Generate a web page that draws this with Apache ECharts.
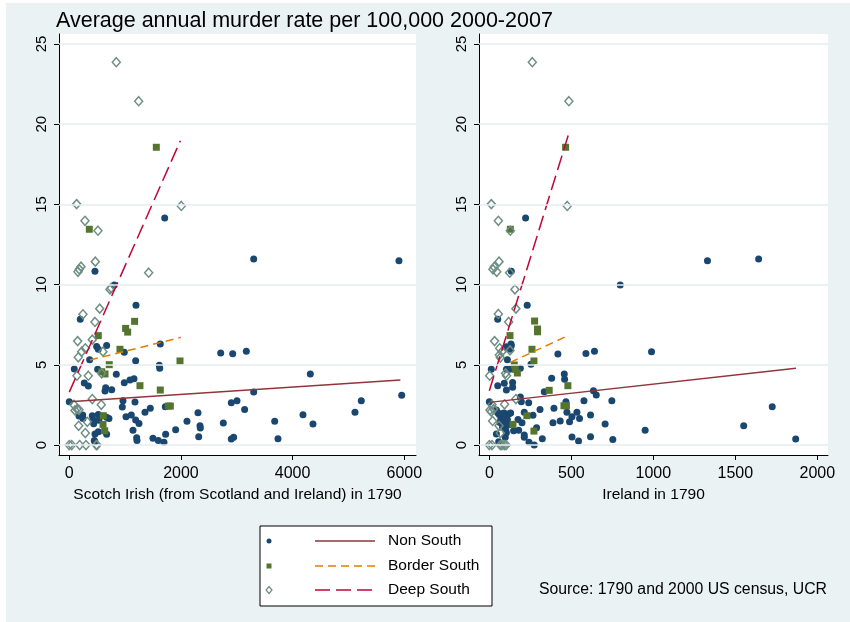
<!DOCTYPE html>
<html>
<head>
<meta charset="utf-8">
<script src="https://cdn.jsdelivr.net/npm/echarts@6/dist/echarts.min.js"></script>
<style>
html,body{margin:0;padding:0;background:#fff;}
#wrap{position:relative;width:850px;height:622px;overflow:hidden;background:#fff;}
#bg{position:absolute;left:6px;top:3px;right:0;bottom:0;background:#eaf2f3;}
#chart{position:absolute;left:0;top:0;width:850px;height:622px;}
</style>
</head>
<body>
<div id="wrap"><div id="bg"></div><div id="chart"></div></div>
<script>
// ---- data ----
const titleText = 'Average annual murder rate per 100,000 2000-2007';
const sourceText = 'Source: 1790 and 2000 US census, UCR';
const groupNames = ['Non South', 'Border South', 'Deep South'];
const yTicks = [0, 5, 10, 15, 20, 25];
const xTicksScotch = [0, 2000, 4000, 6000];
const xTicksIreland = [0, 500, 1000, 1500, 2000];
const xNameScotch = 'Scotch Irish (from Scotland and Ireland) in 1790';
const xNameIreland = 'Ireland in 1790';

const scotchNonSouth = [
[1709,14.15],[3303,11.6],[5905,11.49],[460,10.83],[806,9.97],[1195,8.71],[197,7.84],
[490,6.15],[669,6.21],[520,5.97],[365,5.32],[985,5.78],[1630,6.3],[1189,5.26],[1612,4.97],[1620,4.78],
[2712,5.74],[2927,5.69],[3171,5.84],
[90,4.74],[508,4.72],[842,4.41],[4317,4.43],
[269,3.87],[341,3.68],[652,3.57],[640,3.37],[760,3.45],[985,3.88],[1087,4.05],[1159,4.13],[3303,3.30],
[0,2.7],[962,2.76],[1177,2.68],[950,2.37],[5954,3.10],[5230,2.76],[2902,2.64],[3004,2.76],[3141,2.22],
[240,1.87],[245,1.66],[412,1.83],[425,1.58],[437,1.33],[520,1.91],[526,1.54],[711,1.66],[174,1.81],[550,1.77],[669,1.73],
[1016,1.77],[1111,1.87],[1189,1.56],[1249,1.35],[1356,2.04],[1451,2.29],[1720,2.39],
[2305,2.02],[5117,2.04],[2108,1.48],[2341,1.2],[2347,1.06],[2759,1.37],[3679,1.48],[4186,1.89],[4365,1.31],
[1141,0.93],[1905,0.96],[1726,0.67],[460,0.69],[520,0.83],[669,0.67],[460,0.21],[448,0.29],
[1207,0.46],[1213,0.29],[1499,0.42],[1595,0.29],[1696,0.17],[2318,0.52],[2902,0.37],[2944,0.48],[3738,0.39]
];
const scotchBorderSouth = [
[1559,18.56],[359,13.45],[1170,7.71],[1009,7.27],[1046,7.04],[520,6.82],[908,5.97],[1983,5.24],[716,5.01],
[580,4.57],[640,4.43],[1266,3.70],[1630,3.43],[1775,2.43],[1810,2.43],[609,1.83],[604,1.29],[634,0.89]
];
const scotchDeepSouth = [
[842,23.86],[1243,21.43],[132,15.02],[2006,14.9],[281,13.98],[514,13.36],[466,11.43],[210,11.12],[179,10.95],
[156,10.8],[1422,10.74],[729,9.7],[752,9.79],[545,8.5],[245,8.15],[460,7.67],[150,6.48],[412,6.57],[287,6.03],
[222,5.82],[604,5.82],[161,5.47],[138,4.32],[341,4.32],[580,4.47],[412,2.87],[573,2.51],[84,2.51],[138,2.24],
[102,2.16],[174,2.2],[168,1.2],[322,1.45],[287,0.75],[0,0],[43,0],[186,0],[299,0],[484,0],[496,0]
];
const irelandNonSouth = [
[221,14.15],[1642,11.6],[1330,11.49],[134,10.83],[798,9.97],[231,8.71],[51,7.84],
[132,6.3],[134,6.2],[102,6.13],[128,5.97],[418,5.67],[589,5.71],[641,5.84],[989,5.82],
[110,5.32],[254,5.03],[189,4.78],
[12,4.72],[104,4.72],[124,4.72],[457,4.43],[459,4.1],[380,4.16],
[51,3.7],[91,3.85],[104,3.43],[142,3.9],[142,3.6],[335,3.32],[635,3.39],[652,3.12],
[0,2.7],[467,2.7],[577,2.76],[747,2.76],[189,3.0],[195,2.7],[240,2.64],
[43,2.18],[51,2.02],[309,2.22],[394,2.29],[473,2.04],[534,2.04],[617,1.87],[504,1.77],[550,1.66],[1725,2.39],
[213,2.04],[266,1.85],[175,1.6],[199,1.39],[388,1.39],[432,1.5],[489,1.45],[706,1.31],[1551,1.2],
[950,0.93],[288,1.08],[148,0.89],[179,0.93],[213,0.62],[213,0.48],[323,0.39],[504,0.5],[544,0.25],[617,0.52],[753,0.35],[1868,0.37],
[242,0.17],[274,0],[43,0.69],[57,0.21],[97,0.48],[104,0.77],
[60,1.9],[75,1.95],[90,2.0],[105,1.85],[120,1.95],[130,2.0],[70,1.6],[85,1.7],[95,1.5],[110,1.6],[65,1.4],[80,1.1],[100,0.9],[115,1.25],[90,1.3]
];
const irelandBorderSouth = [
[465,18.56],[128,13.45],[276,7.73],[294,7.23],[294,7.06],[126,6.82],[260,5.97],[272,5.24],[152,4.99],
[158,4.72],[171,4.49],[479,3.70],[365,3.41],[455,2.45],[470,2.45],[229,1.83],[144,1.29],[272,0.87]
];
const irelandDeepSouth = [
[262,23.86],[485,21.43],[12,15.02],[475,14.9],[55,13.98],[128,13.36],[59,11.43],[30,11.1],[22,10.95],
[45,10.8],[124,10.74],[156,9.7],[162,8.5],[55,8.17],[118,7.67],[32,6.48],[63,6.03],[77,5.82],[126,5.9],
[61,5.61],[67,5.45],[2,4.32],[99,4.47],[105,4.32],[162,2.87],[93,2.54],[16,2.51],[4,2.18],[26,2.24],
[12,2.08],[59,1.2],[20,1.5],[67,0.75],[0,0],[16,0],[67,0],[77,0],[91,0],[102,0]
];
const scotchFitNon = [[0,2.7],[5930,4.05]];
const scotchFitBorder = [[371,5.3],[1999,6.71]];
const scotchFitDeep = [[0,3.3],[1990,18.97]];
const irelandFitNon = [[0,2.66],[1870,4.78]];
const irelandFitBorder = [[128,5.15],[487,6.86]];
const irelandFitDeep = [[0,3.39],[485,19.43]];

// ---- styling ----
const FONT = '"Liberation Sans", Arial, sans-serif';
const C_NAVY = '#1a476f', C_GREEN = '#55752f', C_TEAL = '#6e8e84';
const C_MAROON = '#90353b', C_ORANGE = '#e37e00', C_CRAN = '#c10534';
const DASH_BORDER = [8, 5], DASH_DEEP = [15, 6];

function xAxisCfg(gi, min, max, ticks, name) {
  return {
    gridIndex: gi, type: 'value', min: min, max: max,
    name: name, nameLocation: 'middle', nameGap: 27,
    nameTextStyle: {fontSize: 15.5, color: '#000', fontFamily: FONT},
    axisLine: {show: true, onZero: false, lineStyle: {color: '#000', width: 1}},
    axisTick: {show: true, length: 5, customValues: ticks, lineStyle: {color: '#000', width: 1}},
    axisLabel: {customValues: ticks, formatter: v => String(v), fontSize: 16, color: '#000', fontFamily: FONT, margin: 11},
    splitLine: {show: false}
  };
}
function yAxisCfg(gi) {
  return {
    gridIndex: gi, type: 'value', min: -0.62, max: 25.62,
    axisLine: {show: true, onZero: false, lineStyle: {color: '#000', width: 1}},
    axisTick: {show: true, length: 5, customValues: yTicks, lineStyle: {color: '#000', width: 1}},
    axisLabel: {customValues: yTicks, formatter: v => String(v), rotate: 90, fontSize: 15, color: '#000', fontFamily: FONT, margin: 10},
    splitLine: {show: false}
  };
}
function panelSeries(gi, non, border, deep, fNon, fBorder, fDeep) {
  return [
    {type: 'scatter', xAxisIndex: gi, yAxisIndex: gi, data: [], silent: true, z: 1,
      markLine: {silent: true, symbol: ['none', 'none'], label: {show: false},
        lineStyle: {color: '#e6eef0', width: 1.5, type: 'solid'},
        data: yTicks.map(v => ({yAxis: v}))}},
    {type: 'scatter', name: groupNames[0], xAxisIndex: gi, yAxisIndex: gi, data: non, symbol: 'circle', symbolSize: 7,
      itemStyle: {color: C_NAVY, opacity: 1}, z: 3},
    {type: 'scatter', name: groupNames[1], xAxisIndex: gi, yAxisIndex: gi, data: border, symbol: 'rect', symbolSize: 7,
      itemStyle: {color: C_GREEN, opacity: 1}, z: 3},
    {type: 'scatter', name: groupNames[2], xAxisIndex: gi, yAxisIndex: gi, data: deep, symbol: 'diamond', symbolSize: [8, 9],
      itemStyle: {color: 'rgba(255,255,255,0)', borderColor: C_TEAL, borderWidth: 1.5, opacity: 1}, z: 3},
    {type: 'line', xAxisIndex: gi, yAxisIndex: gi, data: fNon, showSymbol: false, symbol: 'none', z: 4,
      lineStyle: {color: C_MAROON, width: 1.5, type: 'solid'}},
    {type: 'line', xAxisIndex: gi, yAxisIndex: gi, data: fBorder, showSymbol: false, symbol: 'none', z: 4,
      lineStyle: {color: C_ORANGE, width: 1.5, type: DASH_BORDER}},
    {type: 'line', xAxisIndex: gi, yAxisIndex: gi, data: fDeep, showSymbol: false, symbol: 'none', z: 4,
      lineStyle: {color: C_CRAN, width: 1.5, type: DASH_DEEP}}
  ];
}

const legendRows = [541, 566, 590];
const legendLineStyles = [
  {stroke: C_MAROON, lineWidth: 1.5},
  {stroke: C_ORANGE, lineWidth: 1.5, lineDash: DASH_BORDER},
  {stroke: C_CRAN, lineWidth: 1.5, lineDash: DASH_DEEP}
];
const legendGraphics = [
  {type: 'rect', shape: {x: 260, y: 526, width: 232, height: 80}, style: {fill: '#fff', stroke: '#000', lineWidth: 1}, z: 10},
  {type: 'circle', shape: {cx: 269, cy: legendRows[0], r: 2.5}, style: {fill: C_NAVY}, z: 11},
  {type: 'rect', shape: {x: 266.5, y: legendRows[1] - 2.5, width: 5, height: 5}, style: {fill: C_GREEN}, z: 11},
  {type: 'polygon', shape: {points: [[269, legendRows[2] - 3.5], [272, legendRows[2]], [269, legendRows[2] + 3.5], [266, legendRows[2]]]},
    style: {fill: 'none', stroke: C_TEAL, lineWidth: 1.2}, z: 11}
];
legendRows.forEach((y, i) => {
  legendGraphics.push({type: 'line', shape: {x1: 315, y1: y, x2: 375, y2: y}, style: legendLineStyles[i], z: 11});
  legendGraphics.push({type: 'text', x: 388, y: y, style: {text: groupNames[i], font: '15.5px ' + FONT, fill: '#000', verticalAlign: 'middle'}, z: 11});
});

const chart = echarts.init(document.getElementById('chart'), null, {renderer: 'canvas'});
chart.setOption({
  backgroundColor: 'transparent',
  animation: false,
  title: {text: titleText, left: 51, top: 5, textStyle: {fontSize: 21.5, fontWeight: 'normal', color: '#000', fontFamily: FONT}},
  grid: [
    {left: 59, top: 34, width: 357, height: 421, show: true, backgroundColor: '#fff', borderWidth: 0},
    {left: 479, top: 34, width: 349, height: 421, show: true, backgroundColor: '#fff', borderWidth: 0}
  ],
  xAxis: [
    xAxisCfg(0, -184, 6210, xTicksScotch, xNameScotch),
    xAxisCfg(1, -63, 2065, xTicksIreland, xNameIreland)
  ],
  yAxis: [yAxisCfg(0), yAxisCfg(1)],
  series: [].concat(
    panelSeries(0, scotchNonSouth, scotchBorderSouth, scotchDeepSouth, scotchFitNon, scotchFitBorder, scotchFitDeep),
    panelSeries(1, irelandNonSouth, irelandBorderSouth, irelandDeepSouth, irelandFitNon, irelandFitBorder, irelandFitDeep)
  ),
  graphic: legendGraphics.concat([
    {type: 'text', x: 539, y: 590, style: {text: sourceText, font: '15.8px ' + FONT, fill: '#000', verticalAlign: 'middle'}, z: 11}
  ])
});
</script>
</body>
</html>
